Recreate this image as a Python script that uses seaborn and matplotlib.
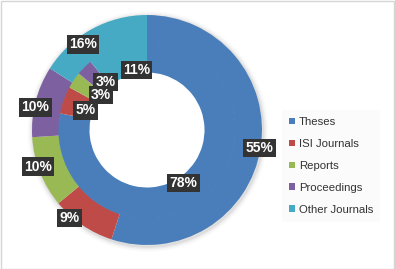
import numpy as np
import seaborn as sns
import matplotlib.pyplot as plt
from matplotlib.patches import Patch, Rectangle

categories = ["Theses", "ISI Journals", "Reports", "Proceedings", "Other Journals"]
outer_pct = [55, 9, 10, 10, 16]
inner_pct = [78, 5, 3, 3, 11]
colors = ["#4a7ebb", "#be4b48", "#98b954", "#7d60a0", "#46aac5"]

sns.set_theme(style="white")
plt.rcParams['font.family'] = ['Liberation Sans', 'DejaVu Sans']

fig = plt.figure(figsize=(3.95, 2.69), dpi=100)
fig.patch.set_facecolor("white")
# thin grey frame round the picture
fig.add_artist(Rectangle((0.5 / 395, 0.5 / 269), 1 - 1.5 / 395, 1 - 1.5 / 269,
                         transform=fig.transFigure, fill=False,
                         edgecolor="#d6d6d6", lw=1))

ax = fig.add_axes([32 / 395, 24 / 269, 230 / 395, 230 / 269])

# soft shadow just outside the donut
for i, a in enumerate([0.06, 0.04, 0.025, 0.015]):
    ax.pie([1], radius=1.0 + 0.012 * (i + 1), colors=["#000000"],
           wedgeprops=dict(width=0.05, alpha=a, lw=0),
           center=(0.008, -0.012))

outer, _ = ax.pie(outer_pct, radius=1.0, colors=colors, startangle=90,
                  counterclock=False, wedgeprops=dict(width=0.235, lw=0))
inner, _ = ax.pie(inner_pct, radius=0.77, colors=colors, startangle=90,
                  counterclock=False, wedgeprops=dict(width=0.27, lw=0))

box = dict(boxstyle="square,pad=0.16", fc="#333333", ec="none")


def put_labels(wedges, vals, radii, nudges):
    # nudges: clockwise shift of the label in degrees
    for i, (w, v, r, dn) in enumerate(zip(wedges, vals, radii, nudges)):
        ang = np.deg2rad((w.theta1 + w.theta2) / 2 - dn)
        ax.text(r * np.cos(ang), r * np.sin(ang), f"{v}%", color="white",
                fontsize=10, fontweight="bold", ha="center", va="center",
                bbox=box, zorder=20 - i)


put_labels(outer, outer_pct, [0.99, 1.02, 1.0, 0.99, 0.93], [0, 7, 3, -3, -8])
put_labels(inner, inner_pct, [0.56, 0.56, 0.50, 0.55, 0.53], [5, -2, 3, 4, 10])

ax.set_xlim(-1, 1)
ax.set_ylim(-1, 1)
ax.set_aspect("equal")
ax.axis("off")

handles = [Patch(facecolor=c, edgecolor="none") for c in colors]
fig.legend(handles, categories, loc="center left",
           bbox_to_anchor=(276 / 395, 1 - 166 / 269), fontsize=8.2,
           frameon=True, facecolor="#fafafa", edgecolor="none", fancybox=False,
           handlelength=0.55, handleheight=0.55, handletextpad=0.35,
           labelspacing=1.05, borderpad=0.6, labelcolor="#333333")

fig.savefig("out.png", dpi=100)
